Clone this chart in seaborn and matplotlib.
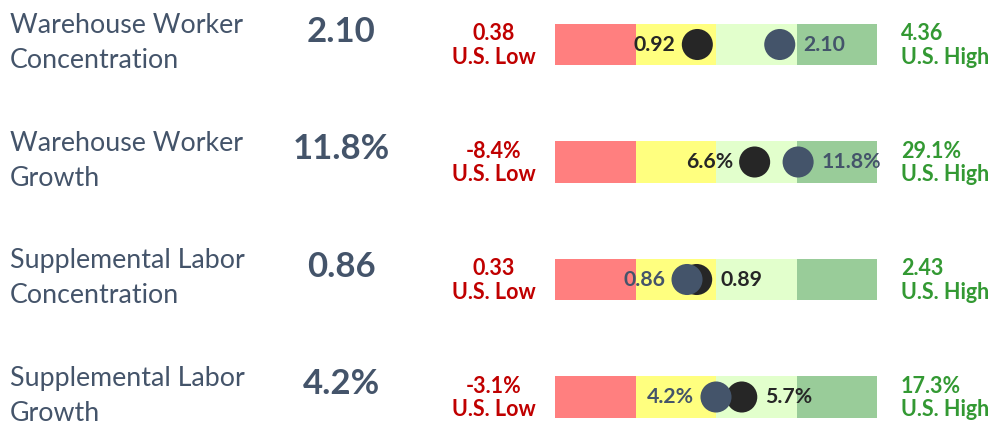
import numpy as np
import pandas as pd
import matplotlib
matplotlib.use("Agg")
import matplotlib.pyplot as plt
import matplotlib.transforms as mtransforms
import seaborn as sns

# Dados do painel
metrics = ["Warehouse Worker\nConcentration", "Warehouse Worker\nGrowth",
           "Supplemental Labor\nConcentration", "Supplemental Labor\nGrowth"]
site_labels = ["2.10", "11.8%", "0.86", "4.2%"]
bench_labels = ["0.92", "6.6%", "0.89", "5.7%"]
low_labels = ["0.38", "-8.4%", "0.33", "-3.1%"]
high_labels = ["4.36", "29.1%", "2.43", "17.3%"]
# posição no medidor (percentil, 0 = mínimo EUA, 100 = máximo EUA)
site_pct = [69.8, 75.5, 41.0, 50.0]
bench_pct = [44.2, 62.0, 44.0, 58.0]
bands = [25, 25, 25, 25]

band_colors = ["#FF7F7F", "#FFFF7F", "#E2FFCC", "#99CC99"]
navy = "#44546A"
dark = "#262626"
red = "#C00000"
green = "#339933"

sns.set_theme(style="white")
plt.rcParams["font.family"] = ["Lato", "DejaVu Sans"]

W, H, DPI = 990, 422, 100
fig = plt.figure(figsize=(W / DPI, H / DPI), dpi=DPI)
ax = fig.add_axes([0, 0, 1, 1])

# escala: x=0 -> 555 px, x=100 -> 877 px ; linhas a cada 117.5 px
px0, px1 = 555, 877
k = (px1 - px0) / 100
ax.set_xlim(-px0 / k, (W - px0) / k)
row0, step = 44.5, 117.5
ax.set_ylim((H - row0) / step, -row0 / step)
ax.axis("off")

rows = np.arange(len(metrics))
left = np.zeros(len(metrics))
for w, c in zip(bands, band_colors):
    ax.barh(rows, w, left=left, height=0.35, color=c, linewidth=0)
    left = left + w

df = pd.DataFrame({
    "row": np.concatenate([rows, rows]),
    "pct": bench_pct + site_pct,
    "kind": ["bench"] * 4 + ["site"] * 4,
})
sns.scatterplot(data=df, x="pct", y="row", hue="kind",
                palette={"bench": dark, "site": navy}, s=500,
                edgecolor="none", legend=False, ax=ax, zorder=3)

xfig = mtransforms.blended_transform_factory(fig.transFigure, ax.transData)
for i in rows:
    ax.text(10 / W, i - 0.01, metrics[i], transform=xfig, ha="left", va="center",
            fontsize=19.3, color=navy, linespacing=1.5)
    ax.text(341 / W, i - 0.11, site_labels[i], transform=xfig, ha="center",
            va="center", fontsize=25, fontweight="bold", color=navy)
    ax.text(494 / W, i + 0.01, low_labels[i] + "\nU.S. Low", transform=xfig,
            ha="center", va="center", fontsize=15.5, fontweight="bold",
            color=red, linespacing=1.15)
    ax.text(901 / W, i + 0.01, high_labels[i] + "\nU.S. High", transform=xfig,
            ha="left", va="center", fontsize=15.5, fontweight="bold",
            color=green, linespacing=1.15)

    # rótulo do menor valor à esquerda, do maior à direita
    pts = [(bench_pct[i], bench_labels[i], dark), (site_pct[i], site_labels[i], navy)]
    order = sorted(range(2), key=lambda j: float(pts[j][1].rstrip("%")))
    lo, hi = pts[order[0]], pts[order[1]]
    ax.annotate(lo[1], (lo[0], i), xytext=(-15.5, 0), textcoords="offset points",
                ha="right", va="center", fontsize=15.3, fontweight="bold", color=lo[2])
    ax.annotate(hi[1], (hi[0], i), xytext=(17, 0), textcoords="offset points",
                ha="left", va="center", fontsize=15.3, fontweight="bold", color=hi[2])

fig.savefig("out.png", dpi=DPI, facecolor="white")
